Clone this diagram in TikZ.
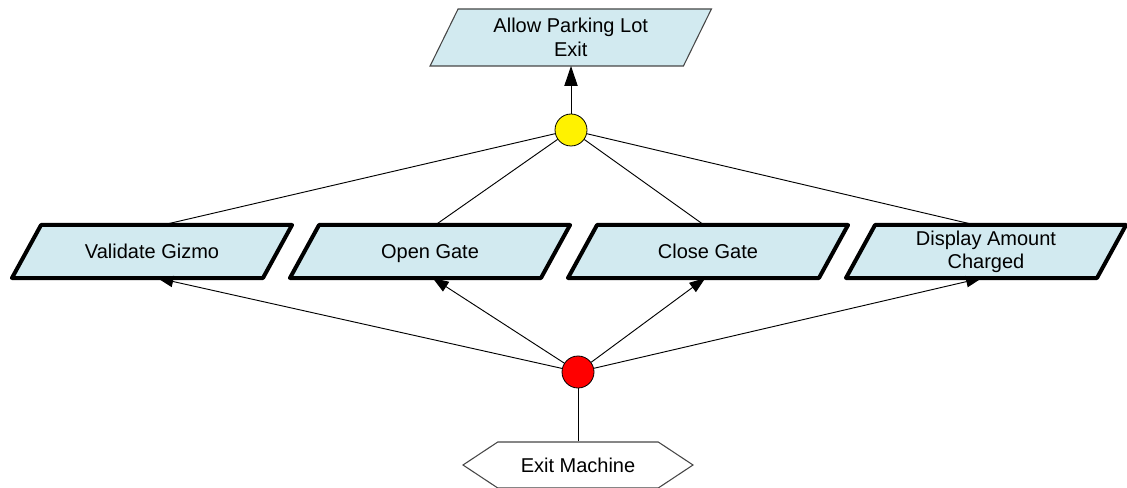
\documentclass[tikz,border=0pt]{standalone}
\usepackage{fontspec}
\setmainfont{Liberation Sans}
\usetikzlibrary{shapes.symbols,arrows.meta}
\pgfdeclarelayer{background}
\pgfsetlayers{background,main}
\definecolor{boxfill}{RGB}{210,234,240}
\definecolor{edgegray}{RGB}{70,70,70}
\tikzset{
  lbl/.style={font=\fontsize{15}{17.5}\selectfont, align=center, text=black},
  % text holders; the slanted outlines are drawn behind them
  taskbody/.style={lbl, rectangle, minimum width=188.25pt, minimum height=39.75pt,
    inner sep=0pt, outer sep=0pt},
  oneline/.style={text height=13pt, text depth=3.2pt},
  goalbody/.style={lbl, rectangle, minimum width=190pt, minimum height=42.75pt,
    inner sep=0pt, outer sep=0pt},
  taskframe/.style={draw=black, line width=3pt, fill=boxfill, line join=round},
  goalframe/.style={draw=edgegray, line width=0.8pt, fill=boxfill},
  actor/.style={lbl, signal, signal to=east and west, signal pointer angle=67,
    minimum width=172.5pt, minimum height=34.5pt, inner sep=0pt,
    draw=edgegray, line width=0.8pt, fill=white},
  junction/.style={circle, draw=black, line width=0.6pt, minimum size=24pt, inner sep=0pt},
  link/.style={draw=black, line width=0.7pt},
  arrowlink/.style={link, -{Triangle[length=12pt, width=8.5pt]}},
  bigarrow/.style={link, -{Triangle[length=15pt, width=10pt]}},
}
% parallelogram round a node: top edge shifted right, bottom edge left
\newcommand\slantframe[3]{%
  \path[#3] ([xshift=#2]#1.north west) -- ([xshift=#2]#1.north east)
    -- ([xshift=-#2]#1.south east) -- ([xshift=-#2]#1.south west) -- cycle;}
\begin{document}
\begin{tikzpicture}[x=0.75pt, y=-0.75pt]
  \useasboundingbox (0,0) rectangle (1127,488);

  % goal and its junction
  \node[goalbody] (goal) at (570.75,37.5) {Allow Parking Lot\\Exit};
  \node[junction, fill=yellow] (andj) at (571,130) {};

  % tasks
  \node[taskbody, oneline] (validate) at (152,251.5) {Validate Gizmo};
  \node[taskbody, oneline] (open)     at (430,251.5) {Open Gate};
  \node[taskbody, oneline] (close)    at (708,251.5) {Close Gate};
  \node[taskbody] (display)  at (986,251.5) {Display Amount\\Charged};

  \begin{pgfonlayer}{background}
    \slantframe{goal}{10.5pt}{goalframe}
    \foreach \t in {validate,open,close,display}
      {\slantframe{\t}{10.9pt}{taskframe}}
  \end{pgfonlayer}

  % actor and its junction
  \node[junction, fill=red] (orj) at (578,372) {};
  \node[actor] (machine) at (578,465) {Exit Machine};

  % connectors
  \draw[bigarrow] (andj) -- (goal.south -| andj);
  \draw[link] (andj) -- ([xshift=8pt]validate.north);
  \draw[link] (andj) -- ([xshift=4pt]open.north);
  \draw[link] (andj) -- ([xshift=-3pt]close.north);
  \draw[link] (andj) -- ([xshift=-8pt]display.north);

  \draw[arrowlink] (orj) -- ([xshift=4pt]validate.south);
  \draw[arrowlink] (orj) -- ([xshift=2pt]open.south);
  \draw[arrowlink] (orj) -- ([xshift=-2pt]close.south);
  \draw[arrowlink] (orj) -- ([xshift=-3pt]display.south);

  \draw[link] (orj) -- (machine.north -| orj);
\end{tikzpicture}
\end{document}
